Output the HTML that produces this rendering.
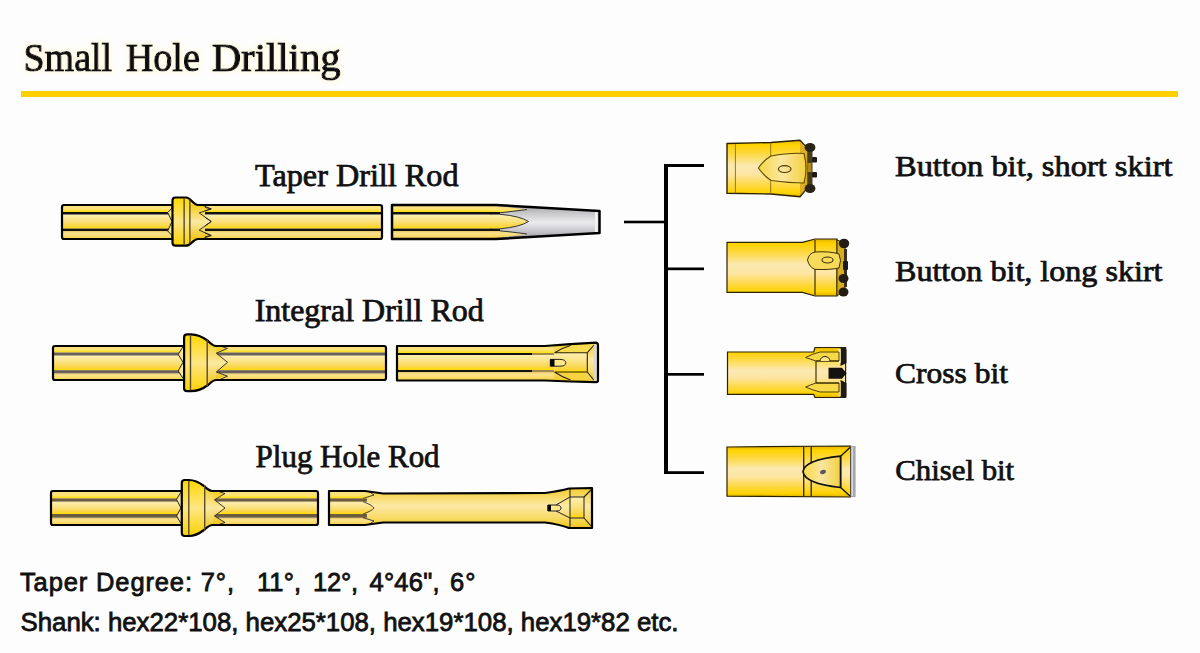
<!DOCTYPE html>
<html><head><meta charset="utf-8"><title>Small Hole Drilling</title>
<style>html,body{margin:0;padding:0;background:#fdfdfd;} svg{display:block;}</style></head>
<body><svg width="1200" height="653" viewBox="0 0 1200 653">
<defs>
<filter id="glow" x="-5%" y="-30%" width="110%" height="160%"><feMorphology in="SourceAlpha" operator="dilate" radius="1.5" result="d"/><feGaussianBlur in="d" stdDeviation="2" result="b"/><feFlood flood-color="#fffae6"/><feComposite in2="b" operator="in" result="g"/><feMerge><feMergeNode in="g"/><feMergeNode in="SourceGraphic"/></feMerge></filter>
<linearGradient id="fTop" x1="0" y1="0" x2="0" y2="1">
 <stop offset="0" stop-color="#f9e07e"/><stop offset="0.55" stop-color="#fde37a"/><stop offset="1" stop-color="#ffe000"/>
</linearGradient>
<linearGradient id="fMid" x1="0" y1="0" x2="0" y2="1">
 <stop offset="0" stop-color="#fdf0b0"/><stop offset="0.45" stop-color="#fbe283"/><stop offset="0.8" stop-color="#fad648"/><stop offset="1" stop-color="#ffdc00"/>
</linearGradient>
<linearGradient id="fBot" x1="0" y1="0" x2="0" y2="1">
 <stop offset="0" stop-color="#e8c86a"/><stop offset="0.3" stop-color="#fbe38c"/><stop offset="1" stop-color="#f7d24a"/>
</linearGradient>
<linearGradient id="collar" x1="0" y1="0" x2="0" y2="1">
 <stop offset="0" stop-color="#f3cc1a"/><stop offset="0.5" stop-color="#fbe9a2"/><stop offset="1" stop-color="#f0c418"/>
</linearGradient>
<linearGradient id="collarB" x1="0" y1="0" x2="0" y2="1">
 <stop offset="0" stop-color="#ffd800"/><stop offset="0.5" stop-color="#fde686"/><stop offset="1" stop-color="#fcd200"/>
</linearGradient>
<linearGradient id="grey" x1="0" y1="0" x2="0" y2="1">
 <stop offset="0" stop-color="#a4a4a8"/><stop offset="0.3" stop-color="#d0d0d2"/><stop offset="0.52" stop-color="#ebebed"/><stop offset="0.78" stop-color="#c4c4c8"/><stop offset="1" stop-color="#9a9aa2"/>
</linearGradient>
<linearGradient id="body" x1="0" y1="0" x2="0" y2="1">
 <stop offset="0" stop-color="#e4b400"/><stop offset="0.08" stop-color="#ffd200"/><stop offset="0.22" stop-color="#fdd838"/><stop offset="0.45" stop-color="#fce9b2"/><stop offset="0.6" stop-color="#fde6a4"/><stop offset="0.8" stop-color="#fdd840"/><stop offset="0.93" stop-color="#ffd400"/><stop offset="1" stop-color="#dcae00"/>
</linearGradient>
<linearGradient id="face" x1="0" y1="0" x2="1" y2="0">
 <stop offset="0" stop-color="#f8d848"/><stop offset="0.5" stop-color="#fbe6a0"/><stop offset="1" stop-color="#f4d040"/>
</linearGradient>
<linearGradient id="plain" x1="0" y1="0" x2="0" y2="1">
 <stop offset="0" stop-color="#f4cc2c"/><stop offset="0.45" stop-color="#fce9a6"/><stop offset="0.75" stop-color="#f8da64"/><stop offset="1" stop-color="#f0c41c"/>
</linearGradient>
</defs>
<rect width="1200" height="653" fill="#fdfdfd"/>
<g filter="url(#glow)"><text x="23.5" y="70.7" font-family="Liberation Serif" font-size="40" fill="#111" stroke="#111" stroke-width="1.2" lengthAdjust="spacingAndGlyphs" textLength="88.6">Small</text><text x="125.7" y="70.7" font-family="Liberation Serif" font-size="40" fill="#111" stroke="#111" stroke-width="1.2" lengthAdjust="spacingAndGlyphs" textLength="74.2">Hole</text><text x="211.7" y="70.7" font-family="Liberation Serif" font-size="40" fill="#111" stroke="#111" stroke-width="1.2" lengthAdjust="spacingAndGlyphs" textLength="129">Drilling</text></g>
<rect x="21" y="91" width="1157" height="6" fill="#ffd000"/>
<rect x="62" y="205" width="320" height="7" fill="url(#fTop)"/><rect x="62" y="214.5" width="320" height="14.099999999999994" fill="url(#fMid)"/><rect x="62" y="231" width="320" height="8" fill="url(#fBot)"/><rect x="62" y="212" width="320" height="2.5" fill="#111"/><rect x="62" y="228.6" width="320" height="2.4000000000000057" fill="#111"/>
<rect x="62" y="205" width="320" height="34" rx="2" fill="none" stroke="#000" stroke-width="2.2"/>
<rect x="392" y="205" width="127" height="7" fill="url(#fTop)"/><rect x="392" y="214.5" width="127" height="14.099999999999994" fill="url(#fMid)"/><rect x="392" y="231" width="127" height="8" fill="url(#fBot)"/><rect x="392" y="212" width="127" height="2.5" fill="#111"/><rect x="392" y="228.6" width="127" height="2.4000000000000057" fill="#111"/>
<path d="M496,205 L600,211 L600,233 L496,239 Z" fill="url(#grey)"/>
<rect x="492" y="205" width="8" height="34" fill="url(#grey)"/>
<path d="M490,206 L496,206 L527,209.5 Q512,211.5 500,212.5 L490,212.5 Z" fill="url(#fTop)"/>
<path d="M490,214.5 L500,214.5 Q520,216 528.5,221.5 Q520,227 500,228.6 L490,228.6 Z" fill="url(#fMid)"/>
<path d="M490,231 L500,231 Q512,232 527,234 L496,238 L490,238 Z" fill="url(#fBot)"/>
<rect x="490" y="212" width="10" height="2.5" fill="#111"/><rect x="490" y="228.6" width="10" height="2.4" fill="#111"/>
<path d="M527,209.5 Q512,211.5 500,212.8 M528.5,221.5 Q520,216 500,214.3 M528.5,221.5 Q520,227 500,228.8 M527,234 Q512,232 500,230.8" stroke="#333" stroke-width="1" fill="none"/>
<path d="M392,205 L496,205 L599.5,211 L599.5,233 L496,239 L392,239 Z" fill="none" stroke="#000" stroke-width="2.5" stroke-linejoin="round"/>
<rect x="595" y="212" width="2.6" height="20" fill="#f2f2f2"/>
<path d="M167.7,212.5 L172,208 L172,206 L175,206 L175,238 L172,238 L172,235.5 L167.7,231 L172,221.5 Z" fill="#fbe58a" stroke="#222" stroke-width="1"/>
<path d="M186,206 L199,206 L211.2,208.9 L199.2,212.9 L211.2,221.5 L199.2,230.2 L211.2,235.5 L199,238 L186,238 Z" fill="url(#collar)" stroke="#222" stroke-width="0.9"/>
<path d="M175.5,197.5 L186,197.5 C191,197.5 193,205 198,205 L205,205 L205,239 L198,239 C193,239 191,245.7 186,245.7 L175.5,245.7 Q172.5,245.7 172.5,242.7 L172.5,200.5 Q172.5,197.5 175.5,197.5 Z" fill="url(#collarB)"/>
<path d="M190,205 L205,205 L205,239 L190,239 Z" fill="url(#collar)"/>
<path d="M203,205.5 L211.2,208.9 L199.2,212.9 L211.2,221.5 L199.2,230.2 L211.2,235.5 L203,238.5" fill="none" stroke="#222" stroke-width="0.9"/>
<path d="M208,205 L198,205 C193,205 191,197.5 186,197.5 L175.5,197.5 Q172.5,197.5 172.5,200.5 L172.5,242.7 Q172.5,245.7 175.5,245.7 L186,245.7 C191,245.7 193,239 198,239 L208,239" fill="none" stroke="#000" stroke-width="2.2"/>
<path d="M184.1,198.5 V244.7 M189.9,198.5 V244.7" stroke="#222" stroke-width="1.1"/>
<rect x="53" y="346" width="333" height="6.5" fill="url(#fTop)"/><rect x="53" y="355.5" width="333" height="14.699999999999989" fill="url(#fMid)"/><rect x="53" y="373.3" width="333" height="6.699999999999989" fill="url(#fBot)"/><rect x="53" y="352.5" width="333" height="3.0" fill="#6b6056"/><rect x="53" y="370.2" width="333" height="3.1000000000000227" fill="#6b6056"/>
<rect x="53" y="346" width="333" height="34" rx="2" fill="none" stroke="#000" stroke-width="2.2"/>
<rect x="397" y="346" width="158" height="7" fill="url(#fTop)"/><rect x="397" y="355" width="158" height="15" fill="url(#fMid)"/><rect x="397" y="372" width="158" height="8" fill="url(#fBot)"/><rect x="397" y="353" width="158" height="2" fill="#111"/><rect x="397" y="370" width="158" height="2" fill="#111"/>
<rect x="532" y="353" width="24" height="2" fill="#a08a50"/><rect x="532" y="370" width="24" height="2" fill="#a08a50"/>
<path d="M554,345.5 Q570,343.5 596,342.6 L597,344 L597,381 L596,382.2 Q570,381.5 554,380.5 Z" fill="url(#plain)"/>
<path d="M554.5,352.7 L587.3,352.7 L587.3,372 L554.5,372 Z" fill="url(#fMid)"/>
<path d="M570.5,346 L587.3,344.5 L595,344 L587.3,352.7 L554.5,352.7 Q562,348 570.5,346 Z" fill="#f8dc50"/>
<path d="M570.5,379.5 L587.3,381 L595,381.5 L587.3,372 L554.5,372 Q562,377 570.5,379.5 Z" fill="#f5d440"/>
<path d="M554.5,352.7 Q562,348 570.5,345.5 M554.5,372 Q562,377 570.5,380 M554.5,352.7 H587.3 V372 H554.5 M587.3,352.7 L595,344 M587.3,372 L595,381.5" fill="none" stroke="#2a2200" stroke-width="1.1"/>
<rect x="593.8" y="344" width="2.8" height="37.5" fill="#d8d8dc"/>
<path d="M550.3,359.4 h9.5 q6,0 6,3.4 q0,3.4 -6,3.4 h-9.5 Z" fill="#fde88a" stroke="#222" stroke-width="1"/>
<rect x="550.3" y="359.4" width="4.2" height="6.8" fill="#000"/>
<path d="M397,346 L545,346 Q570,344 596,342.6 Q598,343 598,345 L598,380.5 Q598,382.2 596,382.2 Q570,381.5 545,380.5 L397,380.5 Z" fill="none" stroke="#000" stroke-width="2.2" stroke-linejoin="round"/>
<path d="M178.2,354.3 L183,346.8 L186,346.8 L186,379 L183,378.4 L178.2,370.9 L183,362.3 Z" fill="#fbe58a" stroke="#222" stroke-width="1"/>
<path d="M200,347 L216,347 L227.5,348.4 L216.3,353.2 L227.5,362.3 L216.3,372 L227.5,376.2 L216,379 L200,379 Z" fill="url(#collar)"/>
<path d="M187.1,334.4 L191,334.4 C199,334.4 204,338 208,341 C211,344 213,346 216,346 L216,380 C213,380 211,382.5 208,385 C204,388 199,391.2 191,391.2 L187.1,391.2 Q184.1,391.2 184.1,388.2 L184.1,337.4 Q184.1,334.4 187.1,334.4 Z" fill="url(#collarB)"/>
<path d="M207.2,340 C211,344 213,346 216,346 L216,380 C213,380 211,382.5 207.2,386 Z" fill="url(#collar)"/>
<path d="M220,346 L227.5,348.4 L216.3,353.2 L227.5,362.3 L216.3,372 L227.5,376.2 L220,379.5" fill="none" stroke="#222" stroke-width="0.9"/>
<path d="M224,346 L216,346 C213,346 211,344 208,341 C204,338 199,334.4 191,334.4 L187.1,334.4 Q184.1,334.4 184.1,337.4 L184.1,388.2 Q184.1,391.2 187.1,391.2 L191,391.2 C199,391.2 204,388 208,385 C211,382.5 213,380 216,380 L224,380" fill="none" stroke="#000" stroke-width="2.2"/>
<path d="M190.5,335.4 V390.2 M207.2,339.5 V386" stroke="#5a4a30" stroke-width="1.4"/>
<rect x="51" y="491" width="267" height="7.399999999999977" fill="url(#fTop)"/><rect x="51" y="501.6" width="267" height="12.399999999999977" fill="url(#fMid)"/><rect x="51" y="517.7" width="267" height="7.2999999999999545" fill="url(#fBot)"/><rect x="51" y="498.4" width="267" height="3.2000000000000455" fill="#6e5c40"/><rect x="51" y="514" width="267" height="3.7000000000000455" fill="#6e5c40"/>
<rect x="51" y="491" width="267" height="34" rx="2" fill="none" stroke="#000" stroke-width="2.2"/>
<clipPath id="c3"><path d="M329,491 L365,491 L383,493.5 L545,493 Q560,491 569,488.5 L592,488 L592,528 L569,528 Q560,524.5 545,522.5 L383,522.5 L365,525 L329,525 Z"/></clipPath>
<g clip-path="url(#c3)">
<path d="M329,491 L365,491 L383,493.5 L545,493 Q560,491 569,488.5 L592,488 L592,528 L569,528 Q560,524.5 545,522.5 L383,522.5 L365,525 L329,525 Z" fill="url(#plain)"/>
<rect x="329" y="491" width="38" height="7.399999999999977" fill="url(#fTop)"/><rect x="329" y="501.6" width="38" height="12.399999999999977" fill="url(#fMid)"/><rect x="329" y="517.7" width="38" height="7.2999999999999545" fill="url(#fBot)"/><rect x="329" y="498.4" width="38" height="3.2000000000000455" fill="#6e5c40"/><rect x="329" y="514" width="38" height="3.7000000000000455" fill="#6e5c40"/>
<path d="M366,490 L374,495 L363,498.4 L366,498.4 Z" fill="url(#fTop)"/>
<path d="M363,501.6 Q372,505 374,508 Q372,511 363,514 Z" fill="url(#fMid)"/>
<path d="M363,517.7 L374,521 L366,526 Z" fill="url(#fBot)"/>
<path d="M368,491 L374,495 L363,498.4 M363,501.6 Q372,505 374,508 Q372,511 363,514 M363,517.7 L374,521 L368,525" fill="none" stroke="#333" stroke-width="0.9"/>
</g>
<path d="M570,497 L584,497 L584,518 L570,518 Z" fill="url(#fMid)" stroke="#222" stroke-width="1"/>
<path d="M570,489 V497 M570,518 V527 M584,497 L592,489 M584,518 L592,527" fill="none" stroke="#222" stroke-width="1.1"/>
<path d="M570,497 L556,505 M570,518 L556,511" fill="none" stroke="#222" stroke-width="1"/>
<path d="M548,505 h8 q5,0 5,3 q0,3 -5,3 h-8 Z" fill="#fde88a" stroke="#222" stroke-width="1"/>
<rect x="547.5" y="505" width="3.5" height="6" fill="#000"/>
<path d="M329,491 L365,491 L383,493.5 L545,493 Q560,491 569,488.5 L592,488 L592,528 L569,528 Q560,524.5 545,522.5 L383,522.5 L365,525 L329,525 Z" fill="none" stroke="#000" stroke-width="2.2" stroke-linejoin="round"/>
<path d="M176.5,499.5 L181,492 L184,492 L184,524 L181,523.5 L176.5,516 L181,508 Z" fill="#fbe58a" stroke="#222" stroke-width="1"/>
<path d="M198,492 L214,492 L225,493.5 L214.5,499.8 L225,508 L214.5,516 L225,522.5 L214,524 L198,524 Z" fill="url(#collar)"/>
<path d="M184.8,480 L189,480 C196,480 200,483 204,486 C207,488.5 209,491 212.7,491 L212.7,525 C209,525 207,527.5 204,530 C200,533 196,536 189,536 L184.8,536 Q181.8,536 181.8,533 L181.8,483 Q181.8,480 184.8,480 Z" fill="url(#collarB)"/>
<path d="M204.7,485.5 C207,488.5 209,491 212.7,491 L212.7,525 C209,525 207,527.5 204.7,530.5 Z" fill="url(#collar)"/>
<path d="M217,491 L225,493.5 L214.5,499.8 L225,508 L214.5,516 L225,522.5 L217,525" fill="none" stroke="#222" stroke-width="0.9"/>
<path d="M222,491 L212.7,491 C209,491 207,488.5 204,486 C200,483 196,480 189,480 L184.8,480 Q181.8,480 181.8,483 L181.8,533 Q181.8,536 184.8,536 L189,536 C196,536 200,533 204,530 C207,527.5 209,525 212.7,525 L222,525" fill="none" stroke="#000" stroke-width="2.2"/>
<path d="M188.8,481 V535 M204.7,485 V531" stroke="#5a4a30" stroke-width="1.4"/>
<g fill="#000">
<rect x="664" y="164" width="4" height="310"/>
<rect x="664" y="164" width="40" height="3"/>
<rect x="664" y="267.5" width="40" height="2.7"/>
<rect x="664" y="373" width="40" height="2.7"/>
<rect x="664" y="471.2" width="40" height="2.8"/>
<rect x="624" y="220.7" width="42" height="2.6"/>
</g>
<path d="M727,143.5 L771,142.5 L800,140.2 L808,149 L808,187 L800,196.8 L771,194 L727,193.2 Z" fill="url(#body)" stroke="#2a2200" stroke-width="1.4" stroke-linejoin="round"/>
<path d="M735.4,144 V193 M770.7,143 V194" stroke="#8a7000" stroke-width="0.9"/>
<path d="M800,141 L808,149 L808,187 L800,196 Z" fill="#dcb020"/>
<path d="M800,141 L808,149 L808,187 L800,196" fill="none" stroke="#4a3a00" stroke-width="1"/>
<path d="M758.4,168 Q764,160 771,156 Q790,152.5 804,153.5 Q808,168 804,183 Q790,183 771,180.5 Q764,176 758.4,168 Z" fill="url(#face)" stroke="#5a4a00" stroke-width="1.1"/>
<ellipse cx="784.7" cy="169.1" rx="6.3" ry="3.4" fill="none" stroke="#4a3a00" stroke-width="1.2"/>
<rect x="807.5" y="150" width="5" height="36" fill="#4a3c1c"/><rect x="807.5" y="163" width="4" height="9" fill="#b08a18"/>
<ellipse cx="810" cy="147.5" rx="5.4" ry="4.6" fill="#2a2418"/><ellipse cx="810" cy="188.5" rx="5.4" ry="4.6" fill="#2a2418"/>
<rect x="812" y="157" width="5" height="5.5" rx="1" fill="#1f1a12"/><rect x="812" y="172" width="5" height="5.5" rx="1" fill="#1f1a12"/>
<path d="M727,242.3 L802.5,242.3 L815,239 L837,239 L837,296 L815,296 L802.5,292.3 L727,292.3 Z" fill="url(#body)" stroke="#2a2200" stroke-width="1.2"/>
<path d="M815,240 V295" stroke="#3a3000" stroke-width="1.2"/>
<path d="M837,240 L845,243 L845,292 L837,295.5 Z" fill="#d8ac20" stroke="#3a3000" stroke-width="1"/>
<rect x="844" y="249" width="3" height="38" fill="#3a3020"/>
<path d="M807.5,260 Q809,253 815,252 Q830,251 839,254 Q842,260 839,268 Q830,270 815,269.4 Q809,267 807.5,260 Z" fill="#f8da5a" stroke="#3a3000" stroke-width="1"/>
<ellipse cx="827.5" cy="260" rx="5.5" ry="3" fill="none" stroke="#3a3000" stroke-width="1.1"/>
<ellipse cx="844" cy="243.5" rx="5.2" ry="4.8" fill="#221c14"/><ellipse cx="843.5" cy="278.5" rx="5" ry="4.6" fill="#221c14"/><ellipse cx="843.5" cy="292" rx="5" ry="4.6" fill="#221c14"/>
<rect x="843" y="261" width="5" height="9" rx="1" fill="#1a1a1a"/>
<path d="M727.5,352 L813.7,352 L815,347.5 L845.6,347.5 L845.6,397.5 L815,397.5 L813.7,394.4 L727.5,394.4 Z" fill="url(#body)" stroke="#2a2200" stroke-width="1.2"/>
<path d="M840.5,347.5 L845,347.5 Q846.5,348 846.5,350 L846.5,363 L840.5,366 Z M840.5,380 L846.5,383 L846.5,396 Q846.5,397.5 845,397.5 L840.5,397.5 Z" fill="#1e1a14"/>
<rect x="838.3" y="349" width="2.4" height="14" fill="#f6eec8"/><rect x="838.3" y="382" width="2.4" height="14" fill="#e8d890"/>
<path d="M805.6,357.5 Q812,354 820,352 L839,352 L839,361 L816,361 Q810,359 805.6,357.5 Z" fill="#f7d848" stroke="#3a3000" stroke-width="0.9"/>
<path d="M805.6,387 Q812,390 820,392 L839,392 L839,383 L816,383 Q810,385 805.6,387 Z" fill="#f7d848" stroke="#3a3000" stroke-width="0.9"/>
<path d="M816,361 V383 M816,361 H839 M816,383 H839" stroke="#2a2200" stroke-width="1.1" fill="none"/>
<path d="M820,361 a5,4.5 0 0 1 10,0" fill="#fbe58a" stroke="#2a2200" stroke-width="1"/>
<path d="M828.5,367.7 L842,367.7 L846.5,373.2 L842,378.8 L828.5,378.8 Z" fill="#151210"/>
<path d="M727,447 L850.6,446 L850.6,497 L727,496.2 Z" fill="url(#body)" stroke="#2a2200" stroke-width="1.2"/>
<rect x="850.6" y="446" width="5" height="51" fill="#a4a4ac"/><rect x="851.5" y="447" width="1.6" height="49" fill="#d8d8de"/>
<path d="M803.7,447 V496 M811.2,447 V496" stroke="#2a2200" stroke-width="1.3"/>
<path d="M840.6,456.2 C818,458.5 804,463 803,471.6 C804,480 818,485 840.6,487.5 Z" fill="url(#face)" stroke="#111" stroke-width="1.7"/>
<path d="M840.6,456.2 V487.5 M840.6,456.2 L850,447.5 M840.6,487.5 L850,496" stroke="#111" stroke-width="1.3" fill="none"/>
<ellipse cx="823" cy="472" rx="3" ry="2" transform="rotate(-20 823 472)" fill="#5a5560"/>
<text x="255" y="185.5" font-size="30.5" font-family="Liberation Serif" fill="#111" stroke="#111" stroke-width="0.75" lengthAdjust="spacingAndGlyphs" textLength="203.5">Taper Drill Rod</text>
<text x="254.7" y="321" font-size="30.5" font-family="Liberation Serif" fill="#111" stroke="#111" stroke-width="0.75" lengthAdjust="spacingAndGlyphs" textLength="229">Integral Drill Rod</text>
<text x="255.6" y="467" font-size="30.5" font-family="Liberation Serif" fill="#111" stroke="#111" stroke-width="0.75" lengthAdjust="spacingAndGlyphs" textLength="184">Plug Hole Rod</text>
<text x="895" y="176.3" font-size="29.5" font-family="Liberation Serif" fill="#111" stroke="#111" stroke-width="0.75" lengthAdjust="spacingAndGlyphs" textLength="277.5">Button bit, short skirt</text>
<text x="895" y="280.5" font-size="29.5" font-family="Liberation Serif" fill="#111" stroke="#111" stroke-width="0.75" lengthAdjust="spacingAndGlyphs" textLength="267.5">Button bit, long skirt</text>
<text x="895" y="383" font-size="29.5" font-family="Liberation Serif" fill="#111" stroke="#111" stroke-width="0.75" lengthAdjust="spacingAndGlyphs" textLength="113">Cross bit</text>
<text x="895.2" y="480" font-size="29.5" font-family="Liberation Serif" fill="#111" stroke="#111" stroke-width="0.75" lengthAdjust="spacingAndGlyphs" textLength="119">Chisel bit</text>
<text x="20" y="591.4" font-size="25.5" font-family="Liberation Sans" fill="#111" stroke="#111" stroke-width="0.8" lengthAdjust="spacing" textLength="214">Taper Degree: 7°,</text>
<text x="257" y="591.4" font-size="25.5" font-family="Liberation Sans" fill="#111" stroke="#111" stroke-width="0.8" lengthAdjust="spacing" textLength="44">11°,</text>
<text x="313" y="591.4" font-size="25.5" font-family="Liberation Sans" fill="#111" stroke="#111" stroke-width="0.8" lengthAdjust="spacing" textLength="45">12°,</text>
<text x="369.5" y="591.4" font-size="25.5" font-family="Liberation Sans" fill="#111" stroke="#111" stroke-width="0.8" lengthAdjust="spacing" textLength="70">4°46",</text>
<text x="450" y="591.4" font-size="25.5" font-family="Liberation Sans" fill="#111" stroke="#111" stroke-width="0.8" lengthAdjust="spacing" textLength="25.5">6°</text>
<text x="20.5" y="630.6" font-size="25.7" font-family="Liberation Sans" fill="#111" stroke="#111" stroke-width="0.8" lengthAdjust="spacingAndGlyphs" textLength="658">Shank: hex22*108, hex25*108, hex19*108, hex19*82 etc.</text>
</svg></body></html>
